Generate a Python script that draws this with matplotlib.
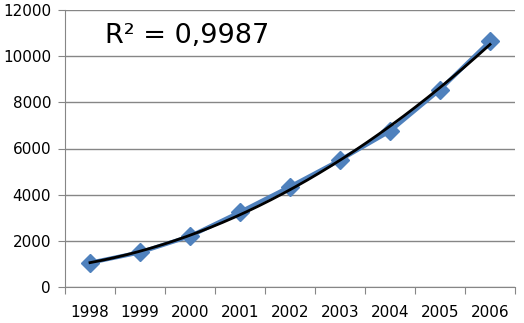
import numpy as np
import matplotlib.pyplot as plt

years = ["1998", "1999", "2000", "2001", "2002", "2003", "2004", "2005", "2006"]
values = [1050, 1500, 2200, 3250, 4350, 5500, 6750, 8550, 10650]
r2_label = "R² = 0,9987"


def main():
    fig = plt.figure(figsize=(5.24, 3.23), dpi=100)
    ax = fig.add_axes([65 / 524, 1 - 287 / 323, 450 / 524, 277 / 323])

    x = np.arange(len(years))
    # blue data series with diamond markers
    ax.plot(x, values, color="#4F81BD", lw=3, marker="D", ms=9.5,
            markerfacecolor="#4F81BD", markeredgecolor="#4F81BD", zorder=3)

    # second-order polynomial trendline
    coef = np.polyfit(x, values, 2)
    xs = np.linspace(x[0], x[-1], 200)
    ax.plot(xs, np.polyval(coef, xs), color="black", lw=2, zorder=4)

    ax.text(0.088, 0.905, r2_label, transform=ax.transAxes, fontsize=19.5,
            ha="left", va="center")

    ax.set_xlim(-0.5, len(years) - 0.5)
    ax.set_ylim(0, 12000)
    ax.set_yticks(np.arange(0, 12001, 2000))
    ax.yaxis.grid(True, color="#868686", lw=1)
    ax.set_axisbelow(True)

    # category ticks sit between the years
    ax.set_xticks(np.arange(-0.5, len(years)), minor=False)
    ax.set_xticklabels([])
    ax.set_xticks(x, minor=True)
    ax.set_xticklabels(years, minor=True)
    ax.tick_params(axis="x", which="minor", length=0, pad=13, labelsize=11)
    ax.tick_params(axis="x", which="major", length=5, color="#868686",
                   direction="out")
    ax.tick_params(axis="y", length=5, color="#868686", labelsize=11, pad=5)

    for side in ["top", "right"]:
        ax.spines[side].set_visible(False)
    for side in ["left", "bottom"]:
        ax.spines[side].set_color("#868686")

    fig.savefig("out.png", dpi=100)


if __name__ == "__main__":
    main()
